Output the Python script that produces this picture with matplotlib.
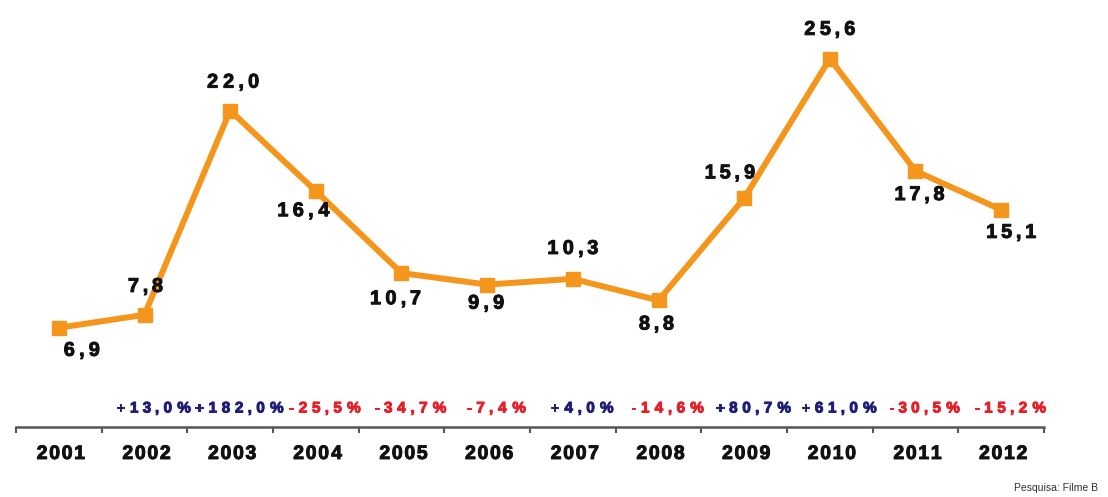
import matplotlib
matplotlib.use("Agg")
import matplotlib.pyplot as plt
import matplotlib.patheffects as pe
from matplotlib import font_manager
from matplotlib.ft2font import FT2Font

plt.rcParams["font.family"] = ["Liberation Sans", "DejaVu Sans"]

years = ["2001", "2002", "2003", "2004", "2005", "2006",
         "2007", "2008", "2009", "2010", "2011", "2012"]
values = [6.9, 7.8, 22.0, 16.4, 10.7, 9.9, 10.3, 8.8, 15.9, 25.6, 17.8, 15.1]
changes = ["", "+13,0%", "+182,0%", "-25,5%", "-34,7%", "-7,4%",
           "+4,0%", "-14,6%", "+80,7%", "+61,0%", "-30,5%", "-15,2%"]

# where each value label sits relative to its marker (pixels)
label_offsets = [(23, -21), (1, 30), (3, 30), (-12, -18), (-6, -24), (-1, -17),
                 (0, 32), (-2, -22), (-14, 27), (0, 31), (4, -22), (10, -21)]

ORANGE = "#F5961C"
BLUE = "#1E1E78"
RED = "#E5202A"
DPI = 100

BOLD_PATH = font_manager.findfont(
    font_manager.FontProperties(family="Liberation Sans", weight="bold"))


def advances(s, size):
    font = FT2Font(BOLD_PATH, hinting_factor=1)
    font.set_size(size, DPI)
    return [font.load_char(ord(c)).horiAdvance / 64 for c in s]


def tracked(ax, xy, s, dx, dy, size, track, color):
    # letter-spaced heavy label, centred on (dx, dy) pixels from xy
    adv = advances(s, size)
    total = sum(adv) + track * (len(s) - 1)
    base = dy - 0.358 * size * DPI / 72
    pos = -total / 2
    heavy = [pe.withStroke(linewidth=0.7, foreground=color)]
    for c, a in zip(s, adv):
        ax.annotate(c, xy, xytext=(dx + pos + a / 2, base),
                    textcoords="offset pixels", ha="center", va="baseline",
                    fontsize=size, fontweight="bold", color=color,
                    path_effects=heavy, annotation_clip=False)
        pos += a + track


fig = plt.figure(figsize=(11.08, 4.97), dpi=DPI)
ax = fig.add_axes([16 / 1108, 70 / 497, 1028 / 1108, 402.8 / 497])

x = list(range(len(years)))
ax.plot(x, values, color=ORANGE, lw=4.3, marker="s", ms=10,
        mfc=ORANGE, mec=ORANGE, clip_on=False, zorder=3)

for i, v in enumerate(values):
    dx, dy = label_offsets[i]
    tracked(ax, (i, v), f"{v:.1f}".replace(".", ","), dx, dy,
            14.3, 4, "#111111")

for i, c in enumerate(changes):
    if c:
        tracked(ax, (i, 0), c, 9, 20, 11, 4.2,
                BLUE if c.startswith("+") else RED)

for i, y in enumerate(years):
    tracked(ax, (i, 0), y, 2, -25, 14, 1.5, "#111111")

ax.set_xlim(-0.5, len(years) - 0.5)
ax.set_ylim(0, 28)

for side in ["top", "right", "left"]:
    ax.spines[side].set_visible(False)
ax.spines["bottom"].set_color("#555555")
ax.spines["bottom"].set_linewidth(1.8)
ax.set_yticks([])
ax.set_xticks([])
ax.set_xticks([i - 0.5 for i in range(len(years) + 1)], minor=True)
ax.tick_params(axis="x", which="minor", length=4, width=1.5,
               color="#555555", direction="out")

fig.text(1098 / 1108, 9 / 497, "Pesquisa: Filme B", ha="right", va="center",
         fontsize=7.5, color="#333333")

fig.savefig("out.png", dpi=DPI)
